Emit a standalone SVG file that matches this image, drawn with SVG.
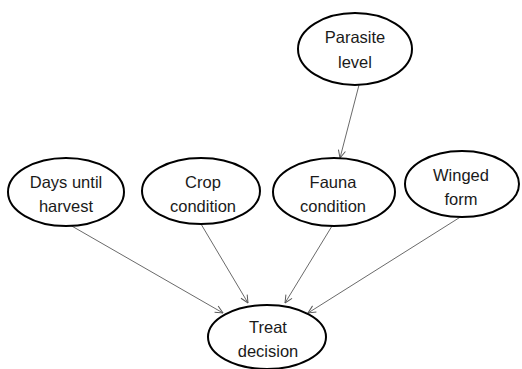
<svg xmlns="http://www.w3.org/2000/svg" width="522" height="369" viewBox="0 0 522 369">
  <defs>
    <marker id="arrow" viewBox="0 0 10 10" refX="9.5" refY="5" markerWidth="9" markerHeight="9" markerUnits="userSpaceOnUse" orient="auto">
      <path d="M1,1 L9.5,5 L1,9" fill="none" stroke="#595959" stroke-width="1.1"/>
    </marker>
  </defs>
  <style>
    .node ellipse { fill: #ffffff; stroke: #000000; stroke-width: 2; }
    .node text { font-family: "Liberation Sans", Arial, sans-serif; font-size: 16.5px; fill: #1a1a1a; text-anchor: middle; }
    .edge { stroke: #595959; stroke-width: 0.9; fill: none; marker-end: url(#arrow); }
  </style>
  <rect width="522" height="369" fill="#ffffff"/>

  <g id="connectors">
    <line class="edge" x1="359" y1="85" x2="340" y2="158"/>
    <line class="edge" x1="70" y1="225" x2="223" y2="313"/>
    <line class="edge" x1="201" y1="224" x2="248" y2="303"/>
    <line class="edge" x1="332" y1="226" x2="285" y2="303"/>
    <line class="edge" x1="462" y1="216" x2="308" y2="313"/>
  </g>

  <g id="parasite-level" class="node">
    <ellipse cx="355" cy="49" rx="57" ry="36"/>
    <text x="355" y="43">Parasite</text>
    <text x="355" y="68">level</text>
  </g>

  <g id="days-until-harvest" class="node">
    <ellipse cx="66" cy="192" rx="58" ry="34"/>
    <text x="66" y="188">Days until</text>
    <text x="66" y="212">harvest</text>
  </g>

  <g id="crop-condition" class="node">
    <ellipse cx="201" cy="191" rx="59" ry="33"/>
    <text x="203" y="188">Crop</text>
    <text x="203" y="212">condition</text>
  </g>

  <g id="fauna-condition" class="node">
    <ellipse cx="334" cy="192" rx="61" ry="34"/>
    <text x="333" y="188">Fauna</text>
    <text x="333" y="212">condition</text>
  </g>

  <g id="winged-form" class="node">
    <ellipse cx="462" cy="184" rx="57" ry="33"/>
    <text x="461" y="181">Winged</text>
    <text x="461" y="205">form</text>
  </g>

  <g id="treat-decision" class="node">
    <ellipse cx="267" cy="337" rx="59" ry="32"/>
    <text x="268" y="333">Treat</text>
    <text x="268" y="357">decision</text>
  </g>
</svg>
